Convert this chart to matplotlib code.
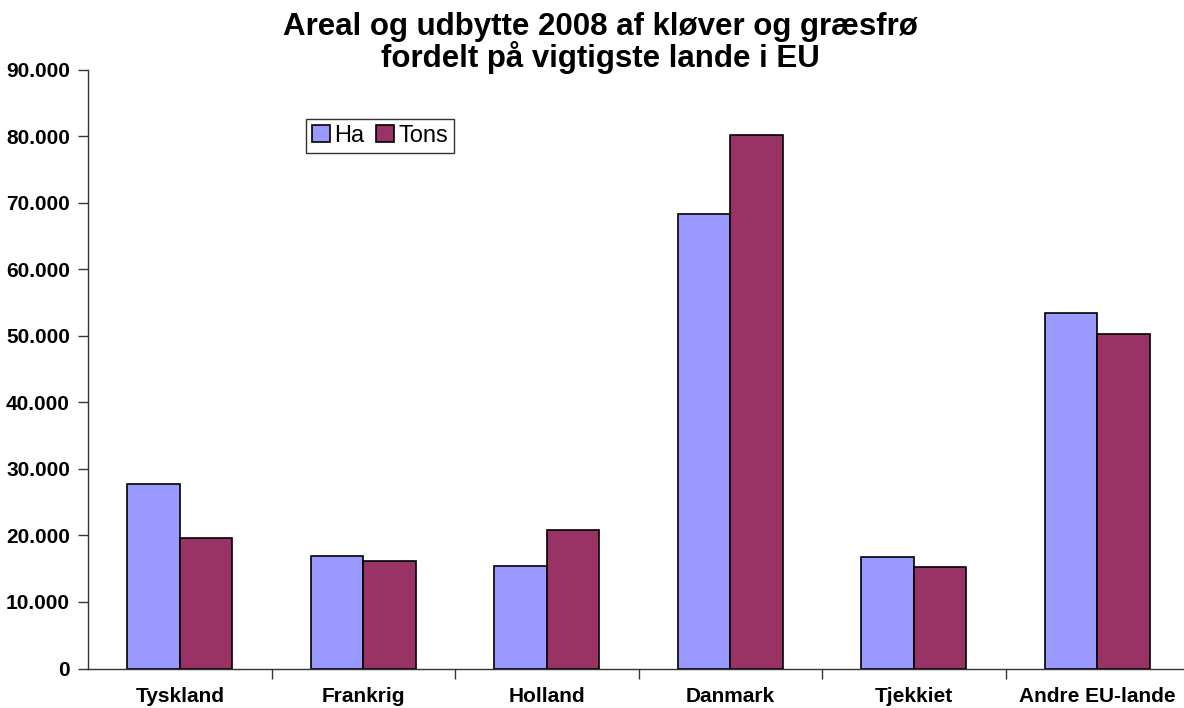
import matplotlib
matplotlib.use("Agg")
import matplotlib.pyplot as plt
import numpy as np
from matplotlib.ticker import FuncFormatter, FixedLocator

categories = ["Tyskland", "Frankrig", "Holland", "Danmark", "Tjekkiet", "Andre EU-lande"]
ha = [27800, 16950, 15350, 68300, 16750, 53400]
tons = [19650, 16200, 20800, 80200, 15300, 50300]
title = "Areal og udbytte 2008 af kløver og græsfrø\nfordelt på vigtigste lande i EU"

plt.rcParams['font.family'] = ['Liberation Sans', 'DejaVu Sans']

W, H = 1184, 708
fig = plt.figure(figsize=(W / 100, H / 100), dpi=100)
x0, x1 = 88, 1189
y0, y1 = 668.5, 69.7
ax = fig.add_axes([x0 / W, (H - y0) / H, (x1 - x0) / W, (y0 - y1) / H])

n = len(categories)
x = np.arange(n)
bw = 0.286
ax.bar(x - bw / 2, ha, bw, color="#9999FF", edgecolor="black", linewidth=1.2, label="Ha")
ax.bar(x + bw / 2, tons, bw, color="#993366", edgecolor="black", linewidth=1.2, label="Tons")

ax.set_xlim(-0.5, n - 0.5)
ax.set_ylim(0, 90000)
ax.set_yticks(np.arange(0, 90001, 10000))
ax.yaxis.set_major_formatter(FuncFormatter(lambda v, p: f"{int(v):,}".replace(",", ".")))
ax.set_xticks(x)
ax.set_xticklabels(categories)
ax.xaxis.set_minor_locator(FixedLocator(np.arange(0.5, n - 0.5, 1)))
ax.tick_params(axis="x", which="major", length=0, pad=13, labelsize=15)
ax.tick_params(axis="x", which="minor", length=7, width=1, color="#333333")
ax.tick_params(axis="y", length=7, width=1, color="#333333", labelsize=15, pad=6)
for lab in ax.get_xticklabels() + ax.get_yticklabels():
    lab.set_fontweight("bold")

for s in ["top", "right"]:
    ax.spines[s].set_visible(False)
for s in ["left", "bottom"]:
    ax.spines[s].set_color("#333333")
    ax.spines[s].set_linewidth(1)

fig.text(600 / W, 1 - 43 / H, title, ha="center", va="center",
         fontsize=22.5, fontweight="bold", linespacing=1.0)

leg = ax.legend(loc="upper left", bbox_to_anchor=((306 - x0) / (x1 - x0), (y0 - 119) / (y0 - y1)),
                ncol=2, frameon=True, fancybox=False, edgecolor="black", fontsize=17,
                handlelength=0.75, handleheight=0.75, handletextpad=0.2, columnspacing=0.5,
                borderpad=0.25, borderaxespad=0)
leg.get_frame().set_linewidth(1)

fig.savefig("out.png", dpi=100)
